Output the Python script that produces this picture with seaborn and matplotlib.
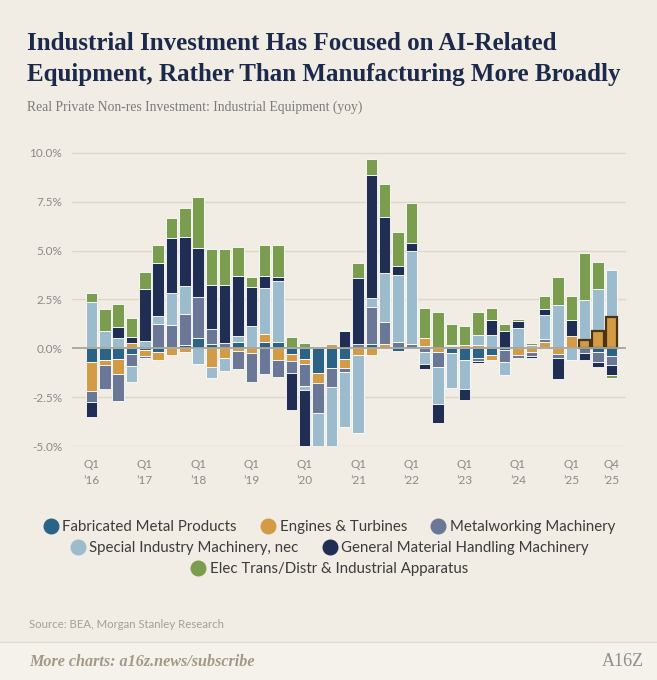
import numpy as np
import seaborn as sns
import matplotlib.pyplot as plt
from matplotlib.lines import Line2D
from matplotlib.patches import Rectangle

# quarters Q1 2016 .. Q4 2025
quarters = [f"Q{q} {y}" for y in range(2016, 2026) for q in range(1, 5)]
tick_idx = [0, 4, 8, 12, 16, 20, 24, 28, 32, 36, 39]
tick_labels = ["Q1\n’16", "Q1\n’17", "Q1\n’18", "Q1\n’19", "Q1\n’20", "Q1\n’21",
               "Q1\n’22", "Q1\n’23", "Q1\n’24", "Q1\n’25", "Q4\n’25"]

# contributions to yoy growth (pp)
fabricated = [-0.71, -0.59, -0.56, -0.30, -0.10, -0.17, 0.05, 0.15,
              0.51, 0.24, 0.0, 0.30, 0.0, 0.34, 0.34, -0.30,
              -0.56, -1.27, -0.99, -0.56, 0.0, 0.22, -0.05, -0.15,
              0.0, 0.10, 0.0, -0.22, -0.58, -0.50, -0.32, -0.10,
              0.0, 0.05, 0.07, 0.0, 0.07, 0.0, -0.20, -0.40]
engines = [-1.49, -0.25, -0.73, 0.27, -0.27, -0.44, -0.34, -0.19,
           0.0, -0.97, -0.52, -0.14, -0.25, 0.37, -0.60, -0.37,
           -0.25, -0.50, 0.22, -0.44, -0.34, -0.35, 0.20, 0.0,
           0.0, 0.42, -0.17, 0.0, 0.15, 0.17, -0.28, 0.0,
           -0.33, -0.20, 0.25, -0.30, 0.56, 0.42, 0.90, 1.60]
metalworking = [-0.56, -1.23, -1.39, -0.60, -0.15, 1.25, 1.15, 1.62,
                2.11, 0.74, 0.27, -0.90, -1.46, -1.30, -0.88, -0.60,
                -1.13, -1.54, -1.01, -0.19, 0.22, 1.87, 1.15, 0.30,
                0.22, -0.20, -0.80, 0.10, 0.0, -0.15, 0.0, -0.62,
                -0.18, -0.20, 0.14, -0.22, 0.0, -0.25, -0.50, -0.47]
special = [2.36, 0.91, 0.51, -0.80, 0.37, 0.39, 1.63, 1.41,
           -0.80, -0.56, -0.66, 0.35, 1.13, 2.37, 3.08, 0.0,
           -0.19, -1.75, -3.05, -2.84, -4.00, 0.49, 2.52, 3.44,
           4.74, -0.60, -1.87, -1.83, -1.52, 0.50, 0.68, -0.62,
           1.05, 0.12, 1.27, 2.23, -0.60, 2.03, 2.15, 2.42]
general = [-0.74, -0.08, 0.59, 0.30, 2.67, 2.75, 2.82, 2.51,
           2.53, 2.28, 2.99, 3.06, 2.00, 0.60, 0.24, -1.90,
           -2.95, 0.0, 0.0, 0.88, 3.38, 6.29, 2.83, 0.46,
           0.45, -0.25, -0.96, 0.07, -0.56, -0.12, 0.76, 0.90,
           0.34, -0.10, 0.29, -1.05, 0.81, -0.33, -0.25, -0.50]
elec = [0.49, 1.10, 1.15, 0.98, 0.88, 0.88, 1.00, 1.50,
        2.57, 1.81, 1.81, 1.48, 0.50, 1.60, 1.60, 0.56,
        0.29, 0.0, 0.0, 0.07, 0.76, 0.81, 1.70, 1.77,
        2.01, 1.52, 1.85, 1.05, 1.01, 1.18, 0.63, 0.32,
        0.10, 0.12, 0.68, 1.44, 1.22, 2.45, 1.35, -0.14]

series_names = ["Fabricated Metal Products", "Engines & Turbines", "Metalworking Machinery",
                "Special Industry Machinery, nec", "General Material Handling Machinery",
                "Elec Trans/Distr & Industrial Apparatus"]
series_vals = [fabricated, engines, metalworking, special, general, elec]
colors = ["#2b6387", "#d49b47", "#6a7797", "#9cbccd", "#1f2e52", "#7b9d50"]

BG = "#f1ece4"
NAVY = "#1b2a4a"

sns.set_theme(style="white")
plt.rcParams['font.family'] = ['Lato', 'DejaVu Sans']

fig = plt.figure(figsize=(6.57, 6.80), dpi=100, facecolor=BG)
ax = fig.add_axes([0.1096, 0.344, 0.843, 0.437])
ax.set_facecolor(BG)

n = len(quarters)
x = np.arange(n)
pos_base = np.zeros(n)
neg_base = np.zeros(n)
for name, vals, col in zip(series_names, series_vals, colors):
    v = np.array(vals, dtype=float)
    bottom = np.where(v >= 0, pos_base, neg_base)
    sns.barplot(x=x, y=v, bottom=bottom, color=col, saturation=1, width=0.86,
                errorbar=None, edgecolor="white", linewidth=0.6, ax=ax, zorder=2)
    bars = ax.containers[-1]
    for b, val in zip(bars, v):
        if val == 0:
            b.set_visible(False)
    if name == "Engines & Turbines":
        # latest quarters highlighted
        for b in list(bars)[-3:]:
            b.set_edgecolor("#4a3414")
            b.set_linewidth(1.6)
            b.set_zorder(3)
    pos_base += np.clip(v, 0, None)
    neg_base += np.clip(v, None, 0)

ax.set_ylim(-5.0, 10.2)
ax.set_xlim(-1.46, n - 1 + 1.09)
yt = [-5, -2.5, 0, 2.5, 5, 7.5, 10]
ax.set_yticks(yt)
ax.set_yticklabels([f"{t:.1f}%" for t in yt])
for t in yt:
    if t != 0:
        ax.axhline(t, color="#ddd8c8", lw=1, zorder=0)
ax.axhline(0, color="#a8a49b", lw=1.3, zorder=4)
ax.set_xticks(tick_idx)
ax.set_xticklabels(tick_labels, linespacing=1.55)
ax.tick_params(axis="both", length=0, labelcolor="#8a8a8a", labelsize=8.5)
ax.tick_params(axis="x", pad=9)
ax.tick_params(axis="y", pad=7)
ax.set_xlabel("")
ax.set_ylabel("")
for s in ax.spines.values():
    s.set_visible(False)

# title block
fig.text(27 / 657, 1 - 44 / 680, "Industrial Investment Has Focused on AI-Related",
         fontsize=18, fontweight="bold", color=NAVY, family="Liberation Serif", va="center")
fig.text(27 / 657, 1 - 74 / 680, "Equipment, Rather Than Manufacturing More Broadly",
         fontsize=18, fontweight="bold", color=NAVY, family="Liberation Serif", va="center")
fig.text(27 / 657, 1 - 107 / 680, "Real Private Non-res Investment: Industrial Equipment (yoy)",
         fontsize=9.8, color="#7b7b7b", family="Liberation Serif", va="center")

# legend rows, centred
rows = [[0, 1, 2], [3, 4], [5]]
row_y = [0.225, 0.194, 0.163]
for idxs, yy in zip(rows, row_y):
    handles = [Line2D([], [], marker="o", ls="", markersize=10.5,
                      markerfacecolor=colors[i], markeredgecolor=colors[i]) for i in idxs]
    fig.legend(handles, [series_names[i] for i in idxs], loc="center",
               bbox_to_anchor=(0.5, yy), ncol=len(idxs), frameon=False,
               handletextpad=0.15, columnspacing=1.5, fontsize=10.8,
               labelcolor="#3c3c3c", handlelength=1.2, borderaxespad=0)

fig.text(29 / 657, 1 - 624 / 680, "Source: BEA, Morgan Stanley Research",
         fontsize=8.2, color="#a3a09b", va="center")

# footer band
fig.patches.append(Rectangle((0, 0), 1, 38 / 680, transform=fig.transFigure,
                             facecolor="#f5f2ec", edgecolor="none", zorder=0))
fig.add_artist(Line2D([0, 1], [38 / 680, 38 / 680], color="#e2dcd1", lw=1))
fig.text(29 / 657, 1 - 662 / 680, "More charts: a16z.news/subscribe",
         fontsize=11.6, color="#a29886", style="italic", fontweight="bold",
         family="Liberation Serif", va="center")
fig.text(644 / 657, 1 - 662 / 680, "A16Z", fontsize=13, color="#8e8e8e",
         family="Liberation Serif", ha="right", va="center")

fig.savefig("out.png", dpi=100, facecolor=BG)
